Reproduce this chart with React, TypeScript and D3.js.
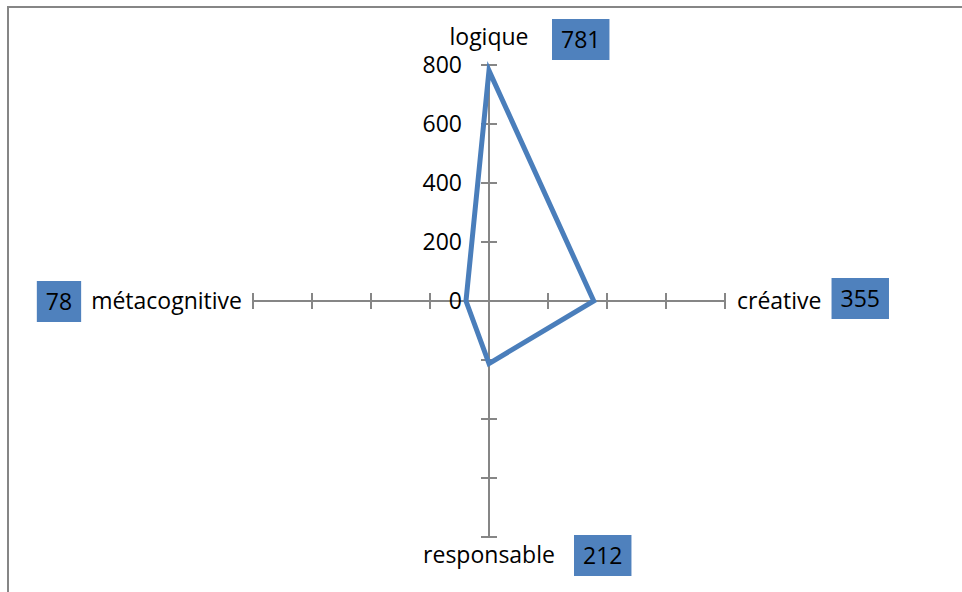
import React, { useEffect, useRef } from "react";
import * as d3 from "d3";

const categories = ["logique", "créative", "responsable", "métacognitive"];
const values = [781, 355, 212, 78];
const tickValues = [0, 200, 400, 600, 800];

const W = 962;
const H = 592;
const FONT = "'Open Sans', sans-serif";

const App = () => {
  const ref = useRef(null);

  useEffect(() => {
    const svg = d3.select(ref.current);
    svg.selectAll("*").remove();

    const cx = 489;
    const cy = 301;
    const R = 236;
    const r = d3.scaleLinear().domain([0, 800]).range([0, R]);
    const angle = d3
      .scaleLinear()
      .domain([0, categories.length])
      .range([-Math.PI / 2, (3 * Math.PI) / 2]);

    // chart border (only top and left are visible in the window)
    svg
      .append("rect")
      .attr("x", 8)
      .attr("y", 7)
      .attr("width", W + 20)
      .attr("height", H + 20)
      .attr("fill", "#fff")
      .attr("stroke", "#868686")
      .attr("stroke-width", 2);

    const g = svg.append("g").attr("transform", `translate(${cx},${cy})`);

    // axes + ticks
    categories.forEach((c, i) => {
      const a = angle(i);
      const ux = Math.cos(a);
      const uy = Math.sin(a);
      g.append("line")
        .attr("x1", 0)
        .attr("y1", 0)
        .attr("x2", ux * r(800))
        .attr("y2", uy * r(800))
        .attr("stroke", "#868686")
        .attr("stroke-width", 2);
      tickValues
        .filter((t) => t > 0)
        .forEach((t) => {
          const px = ux * r(t);
          const py = uy * r(t);
          g.append("line")
            .attr("x1", px - uy * 8)
            .attr("y1", py + ux * 8)
            .attr("x2", px + uy * 8)
            .attr("y2", py - ux * 8)
            .attr("stroke", "#868686")
            .attr("stroke-width", 2);
        });
    });

    // tick labels on the first axis
    g.selectAll("text.tick")
      .data(tickValues)
      .enter()
      .append("text")
      .attr("class", "tick")
      .attr("x", -27)
      .attr("y", (d) => -r(d))
      .attr("dy", "0.36em")
      .attr("text-anchor", "end")
      .attr("font-family", FONT)
      .attr("font-size", 23)
      .attr("fill", "#000")
      .text((d) => d);

    // data polygon
    const line = d3
      .lineRadial()
      .angle((d, i) => angle(i) + Math.PI / 2)
      .radius((d) => r(d))
      .curve(d3.curveLinearClosed);
    g.append("path")
      .attr("d", line(values))
      .attr("fill", "none")
      .attr("stroke", "#4a7ebb")
      .attr("stroke-width", 5)
      .attr("stroke-linejoin", "miter");

    // category labels with value boxes
    const addBox = (gx, top, v, anchorRight = false) => {
      const t = g
        .append("text")
        .attr("font-family", FONT)
        .attr("font-size", 23)
        .attr("fill", "#000")
        .attr("text-anchor", "middle")
        .text(v);
      const tw = t.node().getComputedTextLength();
      const bw = tw + 18;
      const bx = anchorRight ? gx - bw : gx;
      g.insert("rect", () => t.node())
        .attr("x", bx)
        .attr("y", top)
        .attr("width", bw)
        .attr("height", 41)
        .attr("fill", "#4f81bd");
      t.attr("x", bx + bw / 2).attr("y", top + 29);
    };

    const label = (x, y, anchor, text) => {
      const t = g
        .append("text")
        .attr("x", x)
        .attr("y", y)
        .attr("text-anchor", anchor)
        .attr("font-family", FONT)
        .attr("font-size", 23)
        .attr("fill", "#000")
        .text(text);
      return t.node().getComputedTextLength();
    };

    // top
    label(0, -R - 20, "middle", categories[0]);
    addBox(63, -R - 46, values[0]);
    // right
    const w1 = label(R + 12, 8, "start", categories[1]);
    addBox(R + 12 + w1 + 10, -23, values[1]);
    // bottom
    label(0, R + 26, "middle", categories[2]);
    addBox(85, R - 2, values[2]);
    // left
    const w3 = label(-R - 11, 8, "end", categories[3]);
    addBox(-R - 11 - w3 - 10, -20, values[3], true);
  }, []);

  return (
    <svg
      ref={ref}
      width={W}
      height={H}
      style={{ position: "absolute", left: 0, top: 0, background: "#fff" }}
    />
  );
};

export default App;
